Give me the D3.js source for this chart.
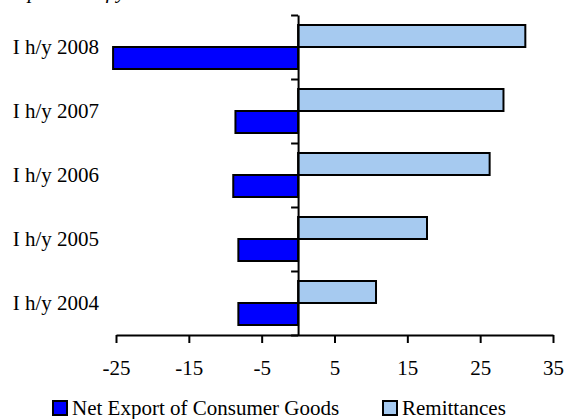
<!DOCTYPE html>
<html>
<head>
<meta charset="utf-8">
<title>Remittances vs net export</title>
<script src="https://d3js.org/d3.v7.min.js"></script>
<style>
  body { margin: 0; background: #fff; }
  text { font-family: "Liberation Serif", "Times New Roman", serif; }
</style>
</head>
<body>
<script>
// data
var categories = ["I h/y 2008", "I h/y 2007", "I h/y 2006", "I h/y 2005", "I h/y 2004"];
var remittances = [31.2, 28.2, 26.3, 17.7, 10.7];
var netExport = [-25.4, -8.6, -8.9, -8.2, -8.2];
var xTicks = [-25, -15, -5, 5, 15, 25, 35];
var seriesNames = ["Remittances", "Net Export of Consumer Goods"];
var colors = {"Remittances": "#a6caf0", "Net Export of Consumer Goods": "#0000ff"};

var W = 565, H = 419;
var svg = d3.select("body").append("svg")
  .attr("width", W).attr("height", H);

var x = d3.scaleLinear().domain([-25, 35]).range([116, 553]);
var y = d3.scaleBand().domain(categories).range([15, 335])
  .paddingInner(0.3125).paddingOuter(0.15625);
var ySub = d3.scaleBand().domain(seriesNames).range([0, y.bandwidth()]);

// title, mostly above the top edge as in the source
svg.append("text")
  .attr("x", 5).attr("y", -2)
  .style("font-style", "italic").style("font-size", "21px")
  .text("In percent of year");

var rows = categories.map(function(c, i) {
  return {cat: c, values: [
    {name: "Remittances", v: remittances[i]},
    {name: "Net Export of Consumer Goods", v: netExport[i]}
  ]};
});

var g = svg.selectAll("g.row").data(rows).enter().append("g")
  .attr("class", "row")
  .attr("transform", function(d) { return "translate(0," + y(d.cat) + ")"; });

g.selectAll("rect").data(function(d) { return d.values; }).enter().append("rect")
  .attr("x", function(d) { return x(Math.min(0, d.v)); })
  .attr("width", function(d) { return Math.abs(x(d.v) - x(0)); })
  .attr("y", function(d) { return ySub(d.name); })
  .attr("height", ySub.bandwidth())
  .attr("fill", function(d) { return colors[d.name]; })
  .attr("stroke", "#000")
  .attr("stroke-width", 2);

// x axis
var xAxis = svg.append("g")
  .attr("transform", "translate(0,335)")
  .call(d3.axisBottom(x).tickValues(xTicks).tickSize(8).tickPadding(17)
    .tickSizeOuter(0).tickFormat(function(d) { return String(d); }));
xAxis.select(".domain").attr("stroke-width", 2);
xAxis.selectAll(".tick line").attr("stroke-width", 2);
xAxis.selectAll("text").style("font-size", "21px")
  .style("font-family", "'Liberation Serif', serif").attr("fill", "#000");

// y axis at zero with ticks on band boundaries
var yLin = d3.scaleLinear().domain([0, categories.length]).range([335, 15]);
var yAxis = svg.append("g")
  .attr("transform", "translate(" + x(0) + ",0)")
  .call(d3.axisLeft(yLin).ticks(categories.length).tickSize(7).tickFormat("").tickSizeOuter(0));
yAxis.select(".domain").attr("stroke-width", 2);
yAxis.selectAll(".tick line").attr("stroke-width", 2);

// category labels
svg.selectAll("text.cat").data(categories).enter().append("text")
  .attr("class", "cat")
  .attr("x", 99)
  .attr("y", function(d) { return y(d) + y.bandwidth() / 2; })
  .attr("dy", "0.35em")
  .attr("text-anchor", "end")
  .style("font-size", "21px")
  .text(function(d) { return d; });

// legend
var legendItems = [
  {name: "Net Export of Consumer Goods", x: 53},
  {name: "Remittances", x: 383}
];
var lg = svg.selectAll("g.legend").data(legendItems).enter().append("g")
  .attr("class", "legend")
  .attr("transform", function(d) { return "translate(" + d.x + ",401)"; });
lg.append("rect")
  .attr("width", 14).attr("height", 14)
  .attr("fill", function(d) { return colors[d.name]; })
  .attr("stroke", "#000").attr("stroke-width", 2);
lg.append("text")
  .attr("x", 19).attr("y", 14)
  .style("font-size", "21px")
  .text(function(d) { return d.name; });
</script>
</body>
</html>
